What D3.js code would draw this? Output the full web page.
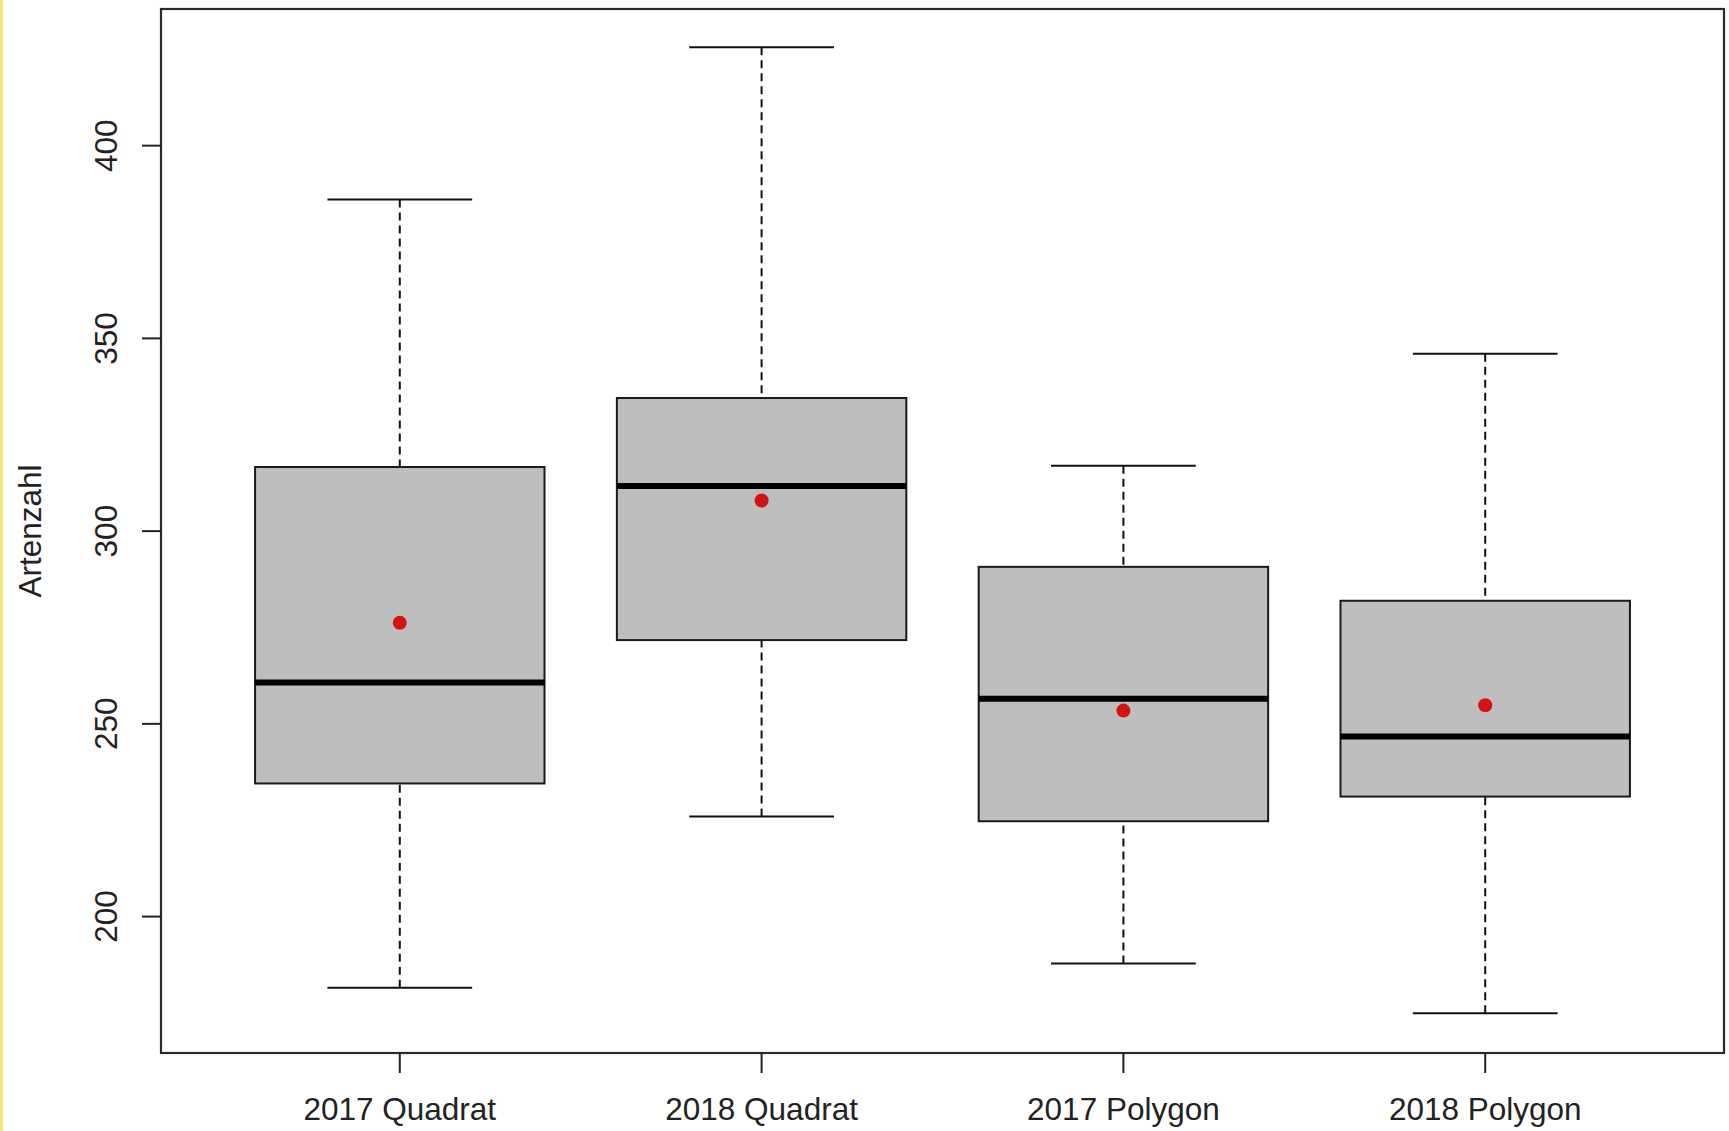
<!DOCTYPE html>
<html>
<head>
<meta charset="utf-8">
<script src="https://cdn.jsdelivr.net/npm/d3@7"></script>
<style>
  html, body { margin: 0; padding: 0; background: #fff; }
  svg { display: block; }
  text { font-family: "Liberation Sans", Arial, sans-serif; fill: #222; }
</style>
</head>
<body>
<svg id="chart" width="1729" height="1131"></svg>
<script>
// Box plot summaries per group (Artenzahl)
const categories  = ["2017 Quadrat", "2018 Quadrat", "2017 Polygon", "2018 Polygon"];
const whiskerLow  = [181.4, 225.8, 187.7, 174.8];
const q1          = [234.4, 271.6, 224.6, 231.0];
const median      = [260.6, 311.6, 256.4, 246.6];
const q3          = [316.5, 334.4, 290.6, 281.8];
const whiskerHigh = [385.9, 425.4, 316.8, 345.9];
const means       = [276.1, 307.8, 253.3, 254.7];
const yTicks      = [200, 250, 300, 350, 400];
const yLabel      = "Artenzahl";

const rows = categories.map((c, i) => ({
  cat: c, lo: whiskerLow[i], q1: q1[i], med: median[i],
  q3: q3[i], hi: whiskerHigh[i], mean: means[i]
}));

const svg = d3.select("#chart");
const W = 1729, H = 1131;
const plot = { left: 161, right: 1724, top: 9, bottom: 1053 };

// thin yellow strip on the left edge
svg.append("rect").attr("x", 0).attr("y", 0).attr("width", 3).attr("height", H)
  .attr("fill", "#f3e67a");

// y range padded by about 4% on each side
const yMin = d3.min(whiskerLow), yMax = d3.max(whiskerHigh);
const pad = (yMax - yMin) * 0.04;
const y = d3.scaleLinear().domain([yMin - pad - 0.3, yMax + pad - 0.1]).range([plot.bottom, plot.top]);

const x = d3.scaleBand().domain(categories).range([plot.left, plot.right])
  .paddingInner(0.2).paddingOuter(0.26);
const step = x.step();
const cx = d => x(d.cat) + x.bandwidth() / 2;
const capHalf = step * 0.2;

const g = svg.append("g");

// whiskers (dashed)
g.selectAll("line.wlo").data(rows).join("line")
  .attr("x1", cx).attr("x2", cx)
  .attr("y1", d => y(d.lo)).attr("y2", d => y(d.q1))
  .attr("stroke", "#111").attr("stroke-width", 2).attr("stroke-dasharray", "8,5");
g.selectAll("line.whi").data(rows).join("line")
  .attr("x1", cx).attr("x2", cx)
  .attr("y1", d => y(d.hi)).attr("y2", d => y(d.q3))
  .attr("stroke", "#111").attr("stroke-width", 2).attr("stroke-dasharray", "8,5");

// whisker caps
["lo", "hi"].forEach(k => {
  g.selectAll(null).data(rows).join("line")
    .attr("x1", d => cx(d) - capHalf).attr("x2", d => cx(d) + capHalf)
    .attr("y1", d => y(d[k])).attr("y2", d => y(d[k]))
    .attr("stroke", "#111").attr("stroke-width", 2);
});

// boxes
g.selectAll("rect.box").data(rows).join("rect")
  .attr("x", d => x(d.cat)).attr("width", x.bandwidth())
  .attr("y", d => y(d.q3)).attr("height", d => y(d.q1) - y(d.q3))
  .attr("fill", "#bebebe").attr("stroke", "#1a1a1a").attr("stroke-width", 2);

// medians
g.selectAll("line.med").data(rows).join("line")
  .attr("x1", d => x(d.cat)).attr("x2", d => x(d.cat) + x.bandwidth())
  .attr("y1", d => y(d.med)).attr("y2", d => y(d.med))
  .attr("stroke", "#000").attr("stroke-width", 6);

// means
g.selectAll("circle.mean").data(rows).join("circle")
  .attr("cx", cx).attr("cy", d => y(d.mean)).attr("r", 7)
  .attr("fill", "#d41414");

// frame
svg.append("rect")
  .attr("x", plot.left).attr("y", plot.top)
  .attr("width", plot.right - plot.left).attr("height", plot.bottom - plot.top)
  .attr("fill", "none").attr("stroke", "#2a2a2a").attr("stroke-width", 2.2);

// x axis
const xAxis = svg.append("g").attr("transform", `translate(0,${plot.bottom})`)
  .call(d3.axisBottom(x).tickSize(20).tickPadding(25).tickSizeOuter(0));
xAxis.select(".domain").remove();
xAxis.selectAll(".tick line").attr("stroke", "#222").attr("stroke-width", 2);
xAxis.selectAll(".tick text").attr("font-size", "31.5px")
  .style("font-family", "'Liberation Sans', Arial, sans-serif").attr("fill", "#222");

// y axis with labels parallel to the axis
const yAxis = svg.append("g").attr("transform", `translate(${plot.left},0)`)
  .call(d3.axisLeft(y).tickValues(yTicks).tickSize(19).tickSizeOuter(0));
yAxis.select(".domain").remove();
yAxis.selectAll(".tick line").attr("stroke", "#222").attr("stroke-width", 2);
yAxis.selectAll(".tick text")
  .attr("x", null).attr("dy", null)
  .attr("text-anchor", "middle")
  .attr("transform", "translate(-44.5,0) rotate(-90)")
  .attr("font-size", "31.5px")
  .style("font-family", "'Liberation Sans', Arial, sans-serif").attr("fill", "#222");

// y axis title
svg.append("text")
  .attr("transform", `translate(41,${(plot.top + plot.bottom) / 2}) rotate(-90)`)
  .attr("text-anchor", "middle").attr("font-size", "31.5px")
  .text(yLabel);
</script>
</body>
</html>
